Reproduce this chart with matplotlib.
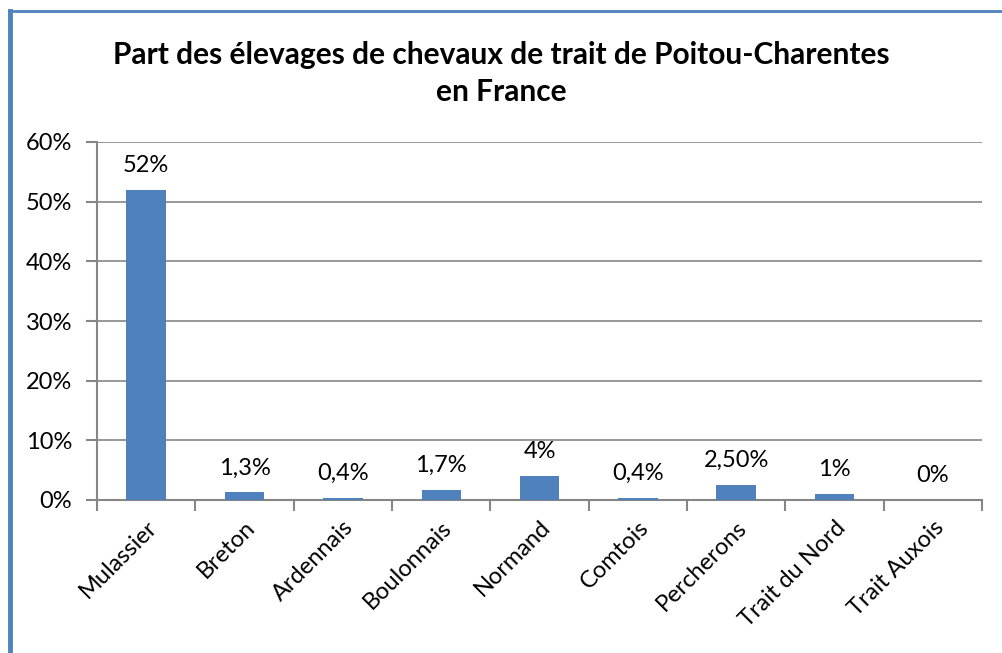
import numpy as np
import matplotlib.pyplot as plt
from matplotlib.lines import Line2D

plt.rcParams['font.family'] = ['Lato', 'DejaVu Sans']

races = ["Mulassier", "Breton", "Ardennais", "Boulonnais", "Normand",
         "Comtois", "Percherons", "Trait du Nord", "Trait Auxois"]
parts = [52, 1.3, 0.4, 1.7, 4, 0.4, 2.5, 1, 0]
etiquettes = ["52%", "1,3%", "0,4%", "1,7%", "4%", "0,4%", "2,50%", "1%", "0%"]
yticks = [0, 10, 20, 30, 40, 50, 60]

bleu = "#4f81bd"
gris = "#868686"

fig = plt.figure(figsize=(10.02, 6.53), dpi=100)
ax = fig.add_axes([97 / 1002, 1 - 500 / 653, 885 / 1002, 358 / 653])

x = np.arange(len(races))
ax.bar(x, parts, width=0.4, color=bleu, zorder=3)
for xi, v, lab in zip(x, parts, etiquettes):
    ax.annotate(lab, (xi, v), xytext=(0, 10), textcoords="offset points",
                ha="center", va="bottom", fontsize=17)

ax.set_xlim(-0.5, len(races) - 0.5)
ax.set_ylim(0, 60)
ax.set_yticks(yticks)
ax.set_yticklabels([f"{t}%" for t in yticks], fontsize=17)
ax.yaxis.grid(True, color=gris, linewidth=1.2, zorder=0)

ax.set_xticks(x)
ax.set_xticklabels(races, rotation=45, ha="right", rotation_mode="anchor", fontsize=17)
ax.tick_params(axis="x", length=0, pad=12)
ax.set_xticks(np.arange(len(races) + 1) - 0.5, minor=True)
ax.tick_params(axis="x", which="minor", length=8, color=gris, width=1.5)
ax.tick_params(axis="y", length=8, color=gris, width=1.5, pad=10)

for s in ["top", "right"]:
    ax.spines[s].set_visible(False)
for s in ["left", "bottom"]:
    ax.spines[s].set_color(gris)
    ax.spines[s].set_linewidth(1.5)

fig.text(0.5, 1 - 55 / 653, "Part des élevages de chevaux de trait de Poitou-Charentes",
         ha="center", va="center", fontsize=21.5, fontweight="bold")
fig.text(0.5, 1 - 92 / 653, "en France",
         ha="center", va="center", fontsize=21.5, fontweight="bold")

# cadre bleu
fig.add_artist(Line2D([10 / 1002, 10 / 1002], [0, 1 - 11 / 653], color=bleu, linewidth=3.5))
fig.add_artist(Line2D([9 / 1002, 1], [1 - 11 / 653, 1 - 11 / 653], color=bleu, linewidth=2))

fig.savefig("out.png", dpi=100)
